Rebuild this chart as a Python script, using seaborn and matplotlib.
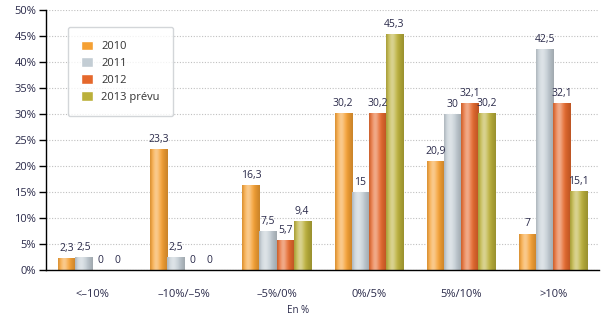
import matplotlib
matplotlib.use("Agg")
import matplotlib.pyplot as plt
import matplotlib.colors as mcolors
import seaborn as sns
import pandas as pd
import numpy as np

categories = ["<\u201310%", "\u201310%/\u20135%", "\u20135%/0%", "0%/5%", "5%/10%", ">10%"]
series = ["2010", "2011", "2012", "2013 prévu"]
v2010 = [2.3, 23.3, 16.3, 30.2, 20.9, 7]
v2011 = [2.5, 2.5, 7.5, 15, 30, 42.5]
v2012 = [0, 0, 5.7, 30.2, 32.1, 32.1]
v2013 = [0, 0, 9.4, 45.3, 30.2, 15.1]
colors = ["#F5A033", "#C3CDD4", "#E5682C", "#BBB03A"]

rows = []
for s, vals in zip(series, [v2010, v2011, v2012, v2013]):
    for c, v in zip(categories, vals):
        rows.append({"cat": c, "serie": s, "val": v})
df = pd.DataFrame(rows)

sns.set_theme(style="white")
plt.rcParams['font.family'] = ['Open Sans', 'DejaVu Sans']

fig = plt.figure(figsize=(6.1, 3.21), dpi=100)
ax = fig.add_axes([0.0754, 0.159, 0.907, 0.810])

sns.barplot(data=df, x="cat", y="val", hue="serie", palette=colors,
            width=0.74, ax=ax, saturation=1, order=categories, hue_order=series)

# cylinder-like shading on each bar
for cont, col in zip(ax.containers, colors):
    base = np.array(mcolors.to_rgb(col))
    xs = np.linspace(0, 1, 64)
    light = np.clip(0.55 * np.exp(-((xs - 0.35) / 0.22) ** 2), 0, 1)
    dark = 0.18 * np.clip((xs - 0.6) / 0.4, 0, 1) + 0.12 * np.clip((0.15 - xs) / 0.15, 0, 1)
    grad = base[None, :] * (1 - dark[:, None]) + (1 - base[None, :]) * light[:, None] * 0.8
    grad = np.clip(grad, 0, 1)[None, :, :]
    for p in cont.patches:
        x0, y0 = p.get_x(), p.get_y()
        w, h = p.get_width(), p.get_height()
        if h <= 0:
            continue
        im = ax.imshow(grad, extent=(x0, x0 + w, y0, y0 + h), aspect="auto",
                       interpolation="bicubic", zorder=p.get_zorder() + 0.1)
        im.set_clip_path(p)

text_color = "#2a2a4a"
for cont in ax.containers:
    labels = [("%g" % v).replace(".", ",") for v in cont.datavalues]
    ax.bar_label(cont, labels=labels, padding=3, fontsize=7.5, color=text_color)

ax.set_ylim(0, 50)
ax.set_xlim(-0.5, len(categories) - 0.5)
ax.set_yticks(np.arange(0, 51, 5))
ax.set_yticklabels([f"{t}%" for t in range(0, 51, 5)], fontsize=8, color=text_color)
ax.yaxis.grid(True, linestyle=(0, (1, 1.5)), color="#c0c0c0", linewidth=0.8)
ax.set_axisbelow(True)

ax.set_xticks(range(len(categories)))
ax.set_xticklabels(categories, fontsize=8, color=text_color)
ax.set_xticks(np.arange(-0.5, len(categories), 1), minor=True)
ax.tick_params(axis="x", which="major", length=0, pad=14)
ax.tick_params(axis="x", which="minor", length=6, width=1, color="black", direction="out")
ax.tick_params(axis="y", length=5, width=1, color="black", direction="out", pad=2, left=True)

for sp in ["top", "right"]:
    ax.spines[sp].set_visible(False)
for sp in ["left", "bottom"]:
    ax.spines[sp].set_color("black")
    ax.spines[sp].set_linewidth(1)

ax.set_ylabel("")
ax.set_xlabel("En %", fontsize=7, color=text_color)
ax.xaxis.set_label_coords(0.455, -0.135)

leg = ax.legend(loc="upper left", bbox_to_anchor=(0.03, 0.955), frameon=True,
                fontsize=8, handlelength=1.0, handleheight=1.0,
                borderpad=1.2, labelspacing=0.45, fancybox=True)
leg.get_frame().set_edgecolor("#c8ccd0")
leg.get_frame().set_linewidth(1)
for t in leg.get_texts():
    t.set_color("#333333")

fig.savefig("out.png", dpi=100)
